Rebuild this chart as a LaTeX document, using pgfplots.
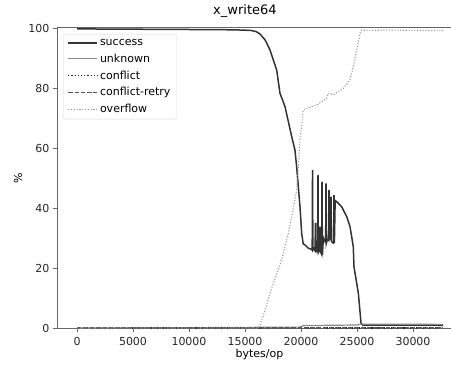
\documentclass[border=0pt]{standalone}
\usepackage{fontspec}
\setmainfont{DejaVu Sans}
\usepackage{pgfplots}
\pgfplotsset{compat=1.18}
\definecolor{cSucc}{HTML}{333333}
\definecolor{cUnk}{HTML}{888888}
\definecolor{cConf}{HTML}{222222}
\definecolor{cRetry}{HTML}{555555}
\definecolor{cOver}{HTML}{999999}
\definecolor{cSpine}{HTML}{666666}
\begin{document}
\begin{tikzpicture}
\useasboundingbox (-57bp,-41bp) rectangle (394bp,328bp);
\begin{axis}[
  at={(0,0)}, anchor=south west,
  width=405bp, height=300bp, scale only axis,
  xmin=-1786, xmax=34375, ymin=0, ymax=100,
  axis line style={draw=cSpine, line width=1bp},
  tick style={draw=cSpine, line width=0.9bp},
  tick align=outside, major tick length=4bp,
  xtick pos=bottom, ytick pos=left,
  xtick={0,5000,10000,15000,20000,25000,30000},
  ytick={0,20,40,60,80,100},
  scaled x ticks=false,
  /pgf/number format/1000 sep={},
  /pgf/number format/assume math mode=true,
  ticklabel style={font=\fontsize{11bp}{13bp}\selectfont, text=black!85},
  xticklabel style={yshift=-1.5bp},
  xlabel={bytes/op}, ylabel={\%},
  xlabel style={font=\fontsize{11bp}{13bp}\selectfont, at={(axis description cs:0.5,-0.088)}, anchor=center},
  ylabel style={font=\fontsize{11bp}{13bp}\selectfont, at={(axis description cs:-0.096,0.5)}, anchor=center, rotate=0},
  title={x\_write64},
  title style={font=\fontsize{13bp}{15bp}\selectfont, at={(axis description cs:0.464,1)}, anchor=south, yshift=1bp},
  legend cell align=left,
  legend style={at={(axis description cs:0.0156,0.98)}, anchor=north west,
    draw=black!15, rounded corners=2bp, fill=white,
    font=\fontsize{11bp}{13bp}\selectfont, row sep=3bp,
    inner xsep=4bp, inner ysep=3bp},
  legend image code/.code={\draw[#1] (0bp,0bp) -- (24bp,0bp); \path (0bp,0bp) -- (29bp,0bp);},
]
\addplot[cSucc, line width=1.5bp] coordinates {
(0,99.7) (5000,99.6) (10000,99.5) (14000,99.4) (15500,99.2) (16000,98.8) (16340,98) (16800,96)
(17230,92.7) (17830,86) (18125,78.2) (18300,76.5) (18570,73.8) (18840,69.3) (19170,63.8) (19460,59.3)
(19610,53.8) (19910,40.4) (20060,31.6) (20200,28) (20357,27.7) (20650,26.6) (20955,26.2) (21000,26.0)
(21030,52.7) (21060,26.0) (21150,26.5) (21250,25.8) (21295,35) (21330,25.5) (21480,25.4) (21518,51)
(21550,25.2) (21650,26) (21696,33.8) (21730,25.5) (21850,24.5) (21875,48.8) (21910,24.3) (22000,30)
(22100,29) (22200,28.5) (22232,48.2) (22260,28.2) (22350,29.5) (22450,29.3) (22500,46) (22530,29.5)
(22600,30) (22679,43.8) (22710,29) (22800,28.5) (22900,28.3) (22946,44.3) (22980,28.3) (23050,42.5)
(23188,42.1) (23634,40.4) (24080,37.1) (24375,33.8) (24527,30.4) (24670,27) (24730,20.4) (25120,11.6)
(25360,1.6) (25500,1.0) (28000,1.0) (30000,1.0) (32700,0.9)
};
\addlegendentry{success}
\addplot[cUnk, line width=1.2bp] coordinates {
(0,0) (10000,0.1) (15000,0.2) (19900,0.3) (20200,0.8) (25000,1.0) (25400,1.3) (28000,1.3) (32700,1.2)
};
\addlegendentry{unknown}
\addplot[cConf, line width=1.2bp, dash pattern=on 1.2bp off 2bp] coordinates {
(0,0) (32700,0)
};
\addlegendentry{conflict}
\addplot[cRetry, line width=1.2bp, dash pattern=on 4.4bp off 1.9bp] coordinates {
(0,0) (32700,0)
};
\addlegendentry{conflict-retry}
\addplot[cOver, line width=1.1bp, dash pattern=on 1.1bp off 1.7bp] coordinates {
(0,0) (16200,0) (16340,1) (16800,6) (17230,11.6) (17830,18.2) (18125,21) (18420,24.9)
(18870,31.6) (19170,37.1) (19610,46) (19760,53.8) (19910,62.7) (20060,67.1) (20210,72.7) (20510,73.2)
(21400,74.3) (22290,76.6) (22440,78.2) (22890,77.7) (23780,79.9) (24375,82.7) (24670,87.1) (24970,92.7)
(25270,98.2) (25420,99.3) (26000,99.2) (28000,99.3) (30000,99.2) (32700,99.1)
};
\addlegendentry{overflow}
\end{axis}
\end{tikzpicture}
\end{document}
